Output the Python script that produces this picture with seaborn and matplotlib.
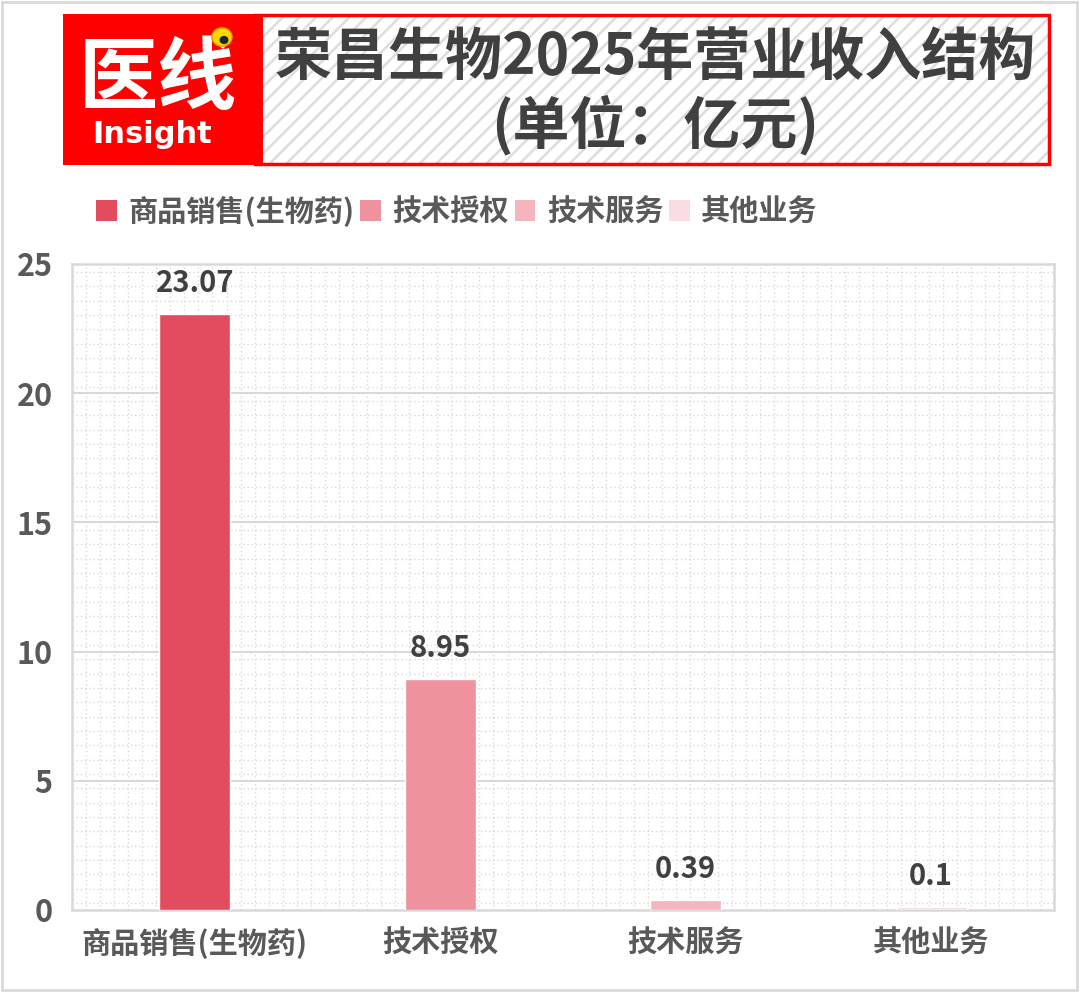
import matplotlib
matplotlib.use("Agg")
import matplotlib.pyplot as plt
import seaborn as sns
import pandas as pd
from matplotlib.patches import Rectangle, Circle

categories = ["商品销售(生物药)", "技术授权", "技术服务", "其他业务"]
values = [23.07, 8.95, 0.39, 0.1]
value_labels = ["23.07", "8.95", "0.39", "0.1"]
colors = ["#E34B5F", "#EE929D", "#F5B5BF", "#FADDE2"]
yticks = [0, 5, 10, 15, 20, 25]
title_lines = ["荣昌生物2025年营业收入结构", "(单位：亿元)"]

sns.set_theme(style="white")
plt.rcParams['font.family'] = ['Noto Sans CJK SC', 'DejaVu Sans']
plt.rcParams['hatch.linewidth'] = 1.8
plt.rcParams['hatch.color'] = '#DDDDDD'

W, H = 1080, 993
fig = plt.figure(figsize=(W/100, H/100), dpi=100)
fig.patch.set_facecolor("white")

def fx(x): return x / W
def fy(y): return 1 - y / H

# outer frame
fig.patches.append(Rectangle((fx(2), fy(990)), fx(1075), 988/H, transform=fig.transFigure,
                             fill=False, edgecolor="#D9D9D9", linewidth=2))

# title box (hatched) and logo
fig.patches.append(Rectangle((fx(255), fy(164)), fx(794), 149/H, transform=fig.transFigure,
                             facecolor="white", edgecolor="#DDDDDD", hatch="//", linewidth=0))
fig.patches.append(Rectangle((fx(255), fy(164)), fx(794), 149/H, transform=fig.transFigure,
                             fill=False, edgecolor="#FF0000", linewidth=2.5))
fig.patches.append(Rectangle((fx(63), fy(165)), fx(200), 151/H, transform=fig.transFigure,
                             facecolor="#FF0000", edgecolor="none"))
fig.text(fx(158), fy(80), "医线", color="white", fontsize=57, fontweight="bold",
         ha="center", va="center")
fig.text(fx(152), fy(134), "Insight", color="white", fontsize=22, fontweight="bold",
         ha="center", va="center", family=["DejaVu Sans"])
fig.patches.append(Circle((fx(222), fy(37)), 10/W, transform=fig.transFigure,
                          facecolor="#FFD700", edgecolor="#E0A000", linewidth=1, zorder=5))
fig.patches.append(Circle((fx(224), fy(40)), 4.5/W, transform=fig.transFigure,
                          facecolor="#222222", edgecolor="none", zorder=6))
fig.text(fx(655), fy(58), title_lines[0], color="#404040", fontsize=41, fontweight="bold",
         ha="center", va="center")
fig.text(fx(655), fy(125), title_lines[1], color="#404040", fontsize=41, fontweight="bold",
         ha="center", va="center")

# axes
ax = fig.add_axes([fx(72), fy(910), fx(982), 646/H])
df = pd.DataFrame({"cat": categories, "val": values})
sns.barplot(data=df, x="cat", y="val", hue="cat", palette=colors, width=0.29,
            legend=False, ax=ax, zorder=3, saturation=1)
ax.set_xlim(-0.5, 3.5)
ax.set_ylim(0, 25)
ax.set_yticks(yticks)
ax.set_xlabel("")
ax.set_ylabel("")

# background dotted pattern
for k in range(45):
    ypx = 272 + 14.34 * k
    ax.plot([0, 1], [(910 - ypx) / 646] * 2, transform=ax.transAxes, color="#D9D9D9",
            linestyle=(0, (1, 2)), linewidth=1, zorder=1)
xpx = 86
while xpx < 1050:
    ax.plot([(xpx - 72) / 982] * 2, [0, 1], transform=ax.transAxes, color="#D9D9D9",
            linestyle=(0, (1, 2)), linewidth=1, zorder=1)
    xpx += 14.05
for t in yticks[1:-1]:
    ax.axhline(t, color="#D9D9D9", linewidth=1.5, zorder=2)

for s in ax.spines.values():
    s.set_color("#D9D9D9")
    s.set_linewidth(1.8)

ax.tick_params(axis="y", length=0, pad=14, labelsize=22, labelcolor="#595959")
ax.tick_params(axis="x", length=0, pad=13, labelsize=21, labelcolor="#595959")
for lab in ax.get_xticklabels() + ax.get_yticklabels():
    lab.set_fontweight("bold")

for i, (v, t) in enumerate(zip(values, value_labels)):
    ax.annotate(t, (i, v), xytext=(0, 16), textcoords="offset points", ha="center",
                va="baseline", fontsize=21, fontweight="bold", color="#404040")

handles = [Rectangle((0, 0), 1, 1, facecolor=c, edgecolor="none") for c in colors]
leg = fig.legend(handles, categories, ncol=4, loc="center left",
                 bbox_to_anchor=(fx(70), fy(211)), frameon=False, handlelength=0.7,
                 handleheight=0.7, handletextpad=0.4, columnspacing=0.2, fontsize=21)
for txt in leg.get_texts():
    txt.set_color("#595959")
    txt.set_fontweight("bold")

fig.savefig("out.png", dpi=100, facecolor="white")
